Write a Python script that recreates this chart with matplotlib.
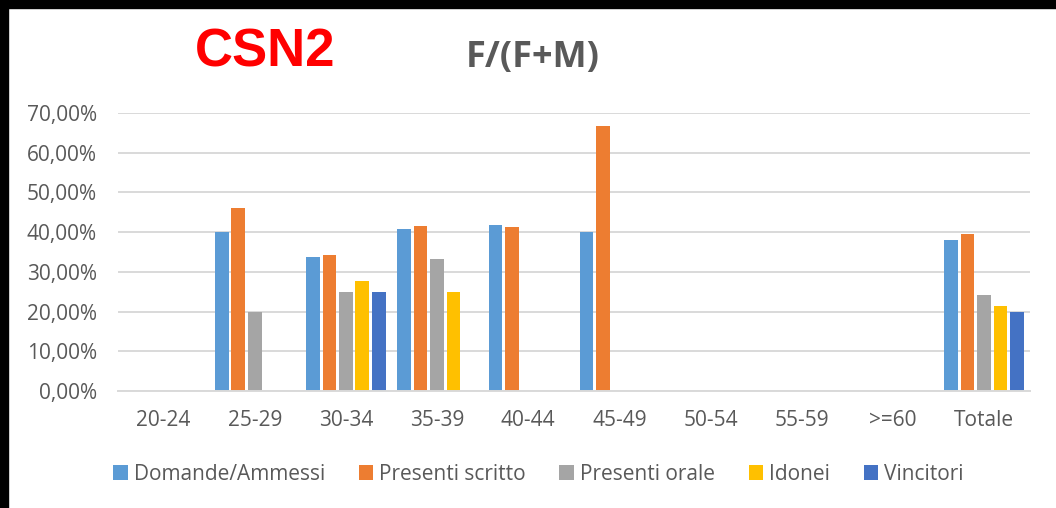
import matplotlib
matplotlib.use("Agg")
import matplotlib.pyplot as plt
from matplotlib.patches import Rectangle
from matplotlib.ticker import FuncFormatter
import numpy as np

# Age groups on the x axis
categories = ["20-24", "25-29", "30-34", "35-39", "40-44",
              "45-49", "50-54", "55-59", ">=60", "Totale"]

# Share of women F/(F+M) per stage of the competition (fractions)
domande_ammessi = [0.0, 0.40, 0.3375, 0.408, 0.418, 0.40, 0.0, 0.0, 0.0, 0.379]
presenti_scritto = [0.0, 0.4615, 0.3415, 0.4167, 0.4118, 0.6667, 0.0, 0.0, 0.0, 0.395]
presenti_orale = [0.0, 0.20, 0.25, 0.3333, 0.0, 0.0, 0.0, 0.0, 0.0, 0.2414]
idonei = [0.0, 0.0, 0.2778, 0.25, 0.0, 0.0, 0.0, 0.0, 0.0, 0.2143]
vincitori = [0.0, 0.0, 0.25, 0.0, 0.0, 0.0, 0.0, 0.0, 0.0, 0.20]

series_names = ["Domande/Ammessi", "Presenti scritto", "Presenti orale",
                "Idonei", "Vincitori"]
series_values = [domande_ammessi, presenti_scritto, presenti_orale,
                 idonei, vincitori]
colors = ["#5B9BD5", "#ED7D31", "#A5A5A5", "#FFC000", "#4472C4"]

text_color = "#595959"
grid_color = "#D9D9D9"
font = ["Open Sans", "DejaVu Sans"]
label_size = 15

fig = plt.figure(figsize=(10.56, 5.08), dpi=100)
fig.patch.set_facecolor("white")
ax = fig.add_axes([0.1117, 0.2303, 0.8633, 0.5473])

x = np.arange(len(categories))
step = 0.18
bar_w = 0.15
handles = []
for i, (name, vals, col) in enumerate(zip(series_names, series_values, colors)):
    h = ax.bar(x + (i - 2) * step, vals, width=bar_w, color=col,
               label=name, zorder=3)
    handles.append(h)

ax.set_xlim(-0.5, len(categories) - 0.5)
ax.set_ylim(0, 0.70)
ax.set_yticks(np.arange(0, 0.701, 0.10))
ax.yaxis.set_major_formatter(FuncFormatter(
    lambda v, _: f"{v * 100:.2f}%".replace(".", ",")))
ax.set_xticks(x)
ax.set_xticklabels(categories)

ax.grid(axis="y", color=grid_color, linewidth=1.4, zorder=0)
for side in ["top", "right", "left"]:
    ax.spines[side].set_visible(False)
ax.spines["bottom"].set_color(grid_color)
ax.spines["bottom"].set_linewidth(1.4)
ax.spines["bottom"].set_zorder(4)

ax.tick_params(axis="both", length=0, colors=text_color, labelsize=label_size)
ax.tick_params(axis="y", pad=15)
ax.tick_params(axis="x", pad=14)
for lab in ax.get_xticklabels() + ax.get_yticklabels():
    lab.set_family(font)

# Titles
fig.text(0.5045, 0.885, "F/(F+M)", ha="center", va="center",
         fontsize=26, fontweight="bold", color=text_color, family=font)
fig.text(0.251, 0.897, "CSN2", ha="center", va="center",
         fontsize=38, fontweight="bold", color="#FF0000",
         family=["Liberation Sans", "DejaVu Sans"])

# Legend below the plot
leg = fig.legend(handles=handles, labels=series_names, loc="center",
                 bbox_to_anchor=(0.51, 0.066), ncol=5, frameon=False,
                 handlelength=0.7, handleheight=0.7, handletextpad=0.3,
                 columnspacing=1.6, prop={"family": font, "size": label_size})
for t in leg.get_texts():
    t.set_color(text_color)

# Black frame on top and left edges
fig.patches.append(Rectangle((0, 1 - 8 / 508), 1, 8 / 508,
                             transform=fig.transFigure, color="black"))
fig.patches.append(Rectangle((0, 0), 8 / 1056, 1,
                             transform=fig.transFigure, color="black"))

fig.savefig("out.png", dpi=100, facecolor="white")
